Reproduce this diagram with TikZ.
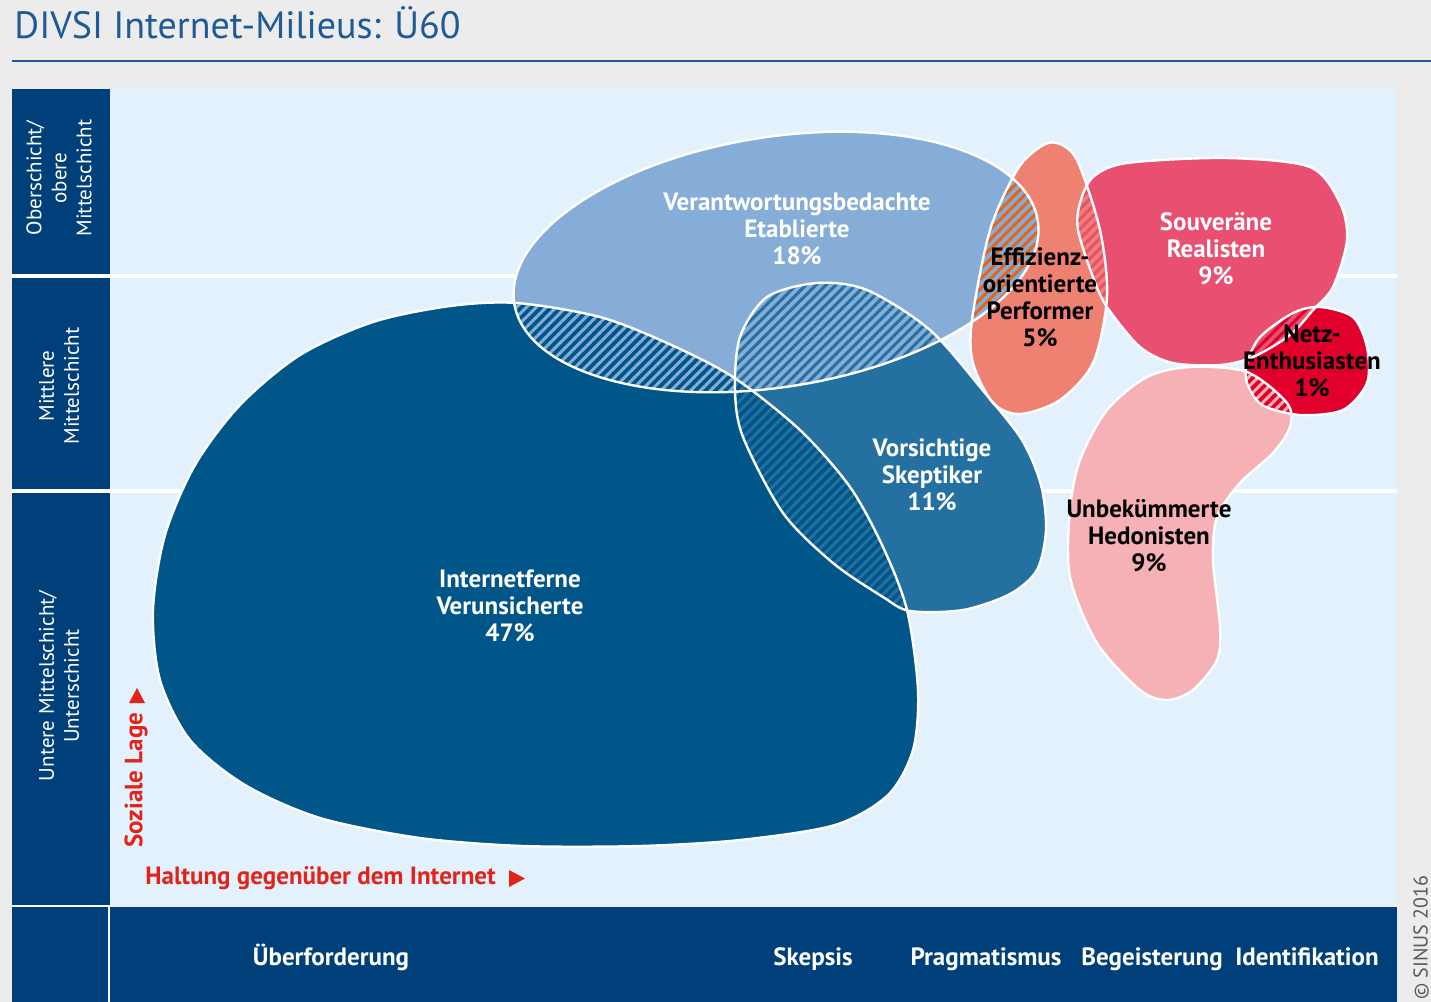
\documentclass[tikz,border=0pt]{standalone}
\usepackage{fontspec}
\setmainfont{PT Sans}
\usetikzlibrary{patterns.meta}
\definecolor{pagegrey}{RGB}{236,236,236}
\definecolor{panelblue}{RGB}{227,241,252}
\definecolor{navy}{RGB}{0,64,122}
\definecolor{titleblue}{RGB}{30,90,150}
\definecolor{inetblue}{RGB}{0,86,137}
\definecolor{skepblue}{RGB}{36,112,161}
\definecolor{etabblue}{RGB}{133,173,216}
\definecolor{perfsalmon}{RGB}{239,129,114}
\definecolor{perforange}{RGB}{232,100,20}
\definecolor{souvpink}{RGB}{232,79,112}
\definecolor{netzred}{RGB}{224,0,43}
\definecolor{hedopink}{RGB}{245,177,181}
\definecolor{axisred}{RGB}{226,35,26}

% milieu outlines (one unit = one pixel, y downwards)
\def\etabpath{[rotate around={9:(776,262)}] (776,262) ellipse [x radius=265, y radius=125]}
\def\inetpath{plot[smooth cycle] coordinates {(517,303) (600,317) (667,343) (733,377) (800,430) (850,487) (883,547) (907,610) (918,690) (913,750) (888,795) (835,825) (740,840) (640,846) (523,846) (420,838) (320,818) (245,785) (190,740) (160,680) (153,610) (165,535) (195,465) (240,405) (300,355) (373,322) (450,306)}}
\def\skeppath{plot[smooth cycle] coordinates {(740,337) (767,297) (817,283) (867,290) (930,330) (985,393) (1022,440) (1041,485) (1046,530) (1037,570) (1010,594) (963,610) (910,611) (883,597) (833,563) (783,513) (743,437) (735,390)}}
\def\perfpath{plot[smooth cycle] coordinates {(1057,143) (1077,160) (1100,230) (1107,297) (1093,363) (1060,400) (1020,414) (993,403) (973,363) (972,320) (990,230) (1017,170) (1040,147)}}
\def\souvpath{plot[smooth cycle] coordinates {(1093,177) (1127,163) (1227,158) (1310,167) (1340,203) (1347,240) (1333,287) (1313,310) (1290,335) (1253,357) (1220,365) (1173,363) (1140,347) (1107,307) (1093,277) (1078,230) (1080,203)}}
\def\netzpath{plot[smooth cycle] coordinates {(1260,337) (1293,313) (1320,307) (1353,317) (1367,347) (1367,383) (1343,410) (1300,415) (1262,405) (1247,383) (1247,363)}}
\def\hedopath{plot[smooth cycle] coordinates {(1190,367) (1247,372) (1287,403) (1290,427) (1273,453) (1240,483) (1217,517) (1213,560) (1220,627) (1217,660) (1193,690) (1167,700) (1140,690) (1097,643) (1070,577) (1070,510) (1080,460) (1107,410) (1147,377)}}

% overlap of two milieus: clip to #1, fill #2 in #3 with stripes in #4
\newcommand\overlap[4]{%
  \begin{scope}
    \clip #1;
    \fill[#3] #2;
    \fill[pattern={Lines[angle=45,distance=3.5pt,line width=1.5pt]}, pattern color=#4] #2;
  \end{scope}}

\begin{document}
\begin{tikzpicture}[x=0.5pt, y=-0.5pt,
    outline/.style={draw=white, line width=1.2pt},
    milieu/.style={font=\bfseries\fontsize{12.5}{13.5}\selectfont, align=center, inner sep=0pt},
    schicht/.style={font=\fontsize{10.5}{12.5}\selectfont, text=white, align=center, rotate=90, inner sep=0pt},
    haltung/.style={font=\bfseries\fontsize{12.5}{14}\selectfont, text=white, inner sep=0pt, anchor=base},
    axislabel/.style={font=\bfseries\fontsize{12.5}{14}\selectfont, text=axisred, inner sep=0pt}]
  \useasboundingbox (0,0) rectangle (1431,1002);
  \fill[pagegrey] (0,0) rectangle (1431,1002);

  % title
  \node[font=\fontsize{19}{23}\selectfont, text=titleblue, anchor=base west, inner sep=0pt] (title) at (14,38) {DIVSI Internet-Milieus: Ü60};
  \draw[titleblue, line width=0.8pt] (12,61) -- (1431,61);

  % panel, rows and bottom bar
  \fill[panelblue] (110,89) rectangle (1397,906);
  \fill[navy] (12,89) rectangle (110,906);
  \fill[navy] (12,907) rectangle (1397,1002);
  \draw[white, line width=2pt] (12,275.5) -- (1397,275.5);
  \draw[white, line width=2pt] (12,490.5) -- (1397,490.5);
  \draw[white, line width=1.2pt] (12,906) -- (109,906) -- (109,1002);

  % milieus
  \fill[etabblue] \etabpath;
  \fill[inetblue] \inetpath;
  \fill[skepblue] \skeppath;
  \fill[perfsalmon] \perfpath;
  \fill[souvpink] \souvpath;
  \fill[hedopink] \hedopath;
  \fill[netzred] \netzpath;

  % hatched overlaps
  \overlap{\etabpath}{\inetpath}{inetblue}{etabblue}
  \overlap{\etabpath}{\skeppath}{etabblue}{skepblue}
  \overlap{\inetpath}{\skeppath}{inetblue}{skepblue}
  \overlap{\etabpath}{\perfpath}{etabblue}{perforange}
  \overlap{\souvpath}{\perfpath}{perfsalmon}{souvpink}
  \overlap{\souvpath}{\netzpath}{souvpink}{netzred}
  \overlap{\hedopath}{\netzpath}{netzred}{hedopink}

  \draw[outline] \etabpath;
  \draw[outline] \inetpath;
  \draw[outline] \skeppath;
  \draw[outline] \perfpath;
  \draw[outline] \souvpath;
  \draw[outline] \hedopath;
  \draw[outline] \netzpath;

  % milieu names
  \node[milieu, text=white] (etab) at (797,229) {Verantwortungsbedachte\\Etablierte\\18\%};
  \node[milieu, text=white] (inet) at (510,606) {Internetferne\\Verunsicherte\\47\%};
  \node[milieu, text=white] (skep) at (932,475) {Vorsichtige\\Skeptiker\\11\%};
  \node[milieu, text=black] (perf) at (1040,297) {Effizienz-\\orientierte\\Performer\\5\%};
  \node[milieu, text=white] (souv) at (1216,249) {Souveräne\\Realisten\\9\%};
  \node[milieu, text=black] (netz) at (1312,361) {Netz-\\Enthusiasten\\1\%};
  \node[milieu, text=black] (hedo) at (1149,536) {Unbekümmerte\\Hedonisten\\9\%};

  % social strata
  \node[schicht] (ober) at (59,178) {Oberschicht/\\obere\\Mittelschicht};
  \node[schicht] (mitte) at (59,386) {Mittlere\\Mittelschicht};
  \node[schicht] (unter) at (59,686) {Untere Mittelschicht/\\Unterschicht};

  % axes
  \node[axislabel, anchor=west] (haltung) at (145,878) {Haltung gegenüber dem Internet};
  \fill[axisred] (509,870) -- (525,878.5) -- (509,887) -- cycle;
  \node[axislabel, rotate=90, anchor=west] (lage) at (136,848) {Soziale Lage};
  \fill[axisred] (129,703) -- (145,703) -- (137,688) -- cycle;

  % attitudes
  \node[haltung] (ueber) at (331,965) {Überforderung};
  \node[haltung] (skepsis) at (813,965) {Skepsis};
  \node[haltung] (pragma) at (986,965) {Pragmatismus};
  \node[haltung] (begeist) at (1152,965) {Begeisterung};
  \node[haltung] (ident) at (1307,965) {Identifikation};

  \node[rotate=90, anchor=west, font=\fontsize{10}{12}\selectfont, text=black!65, inner sep=0pt] (copy) at (1421,1000) {© SINUS 2016};
\end{tikzpicture}
\end{document}
